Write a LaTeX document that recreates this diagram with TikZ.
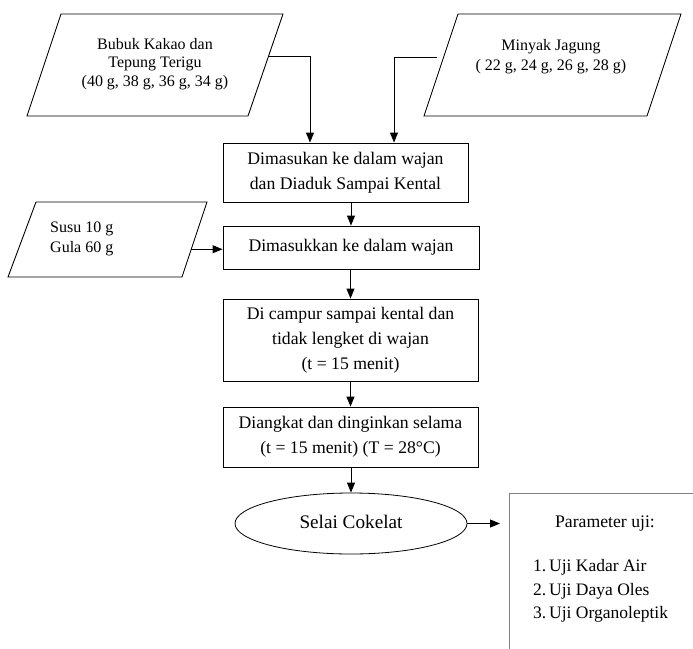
\documentclass[tikz,border=0pt]{standalone}
\usepackage{fontspec}
\setmainfont{Liberation Serif}
\usepackage{tikz}
\usetikzlibrary{calc, positioning, shapes.geometric, arrows.meta}

\begin{document}
\begin{tikzpicture}[x=1pt,y=1pt,yscale=-1,xscale=1,
  flowbox/.style={draw, line width=0.9pt, inner sep=0pt, align=center, font=\fontsize{17.7}{25}\selectfont},
  datatext/.style={inner sep=0pt, align=center, font=\fontsize{16}{18.5}\selectfont},
  para/.style={line width=0.9pt},
  arr/.style={line width=0.9pt, -{Triangle[length=10pt,width=8pt]}},
]
\useasboundingbox (0,0) rectangle (693,648);
\clip (0,0) rectangle (693,648);

%Shape: Parallelogram [kakao]
\coordinate (kTL) at (61,14);
\coordinate (kTR) at (283,14);
\coordinate (kBR) at (248,116);
\coordinate (kBL) at (27,116);
\draw [para] (kTL) -- (kTR) -- (kBR) -- (kBL) -- cycle;
%Shape: Parallelogram [minyak]
\coordinate (mTL) at (458,14);
\coordinate (mTR) at (681,14);
\coordinate (mBR) at (647,116);
\coordinate (mBL) at (424,116);
\draw [para] (mTL) -- (mTR) -- (mBR) -- (mBL) -- cycle;
%Shape: Parallelogram [susu]
\coordinate (sTL) at (36,202);
\coordinate (sTR) at (207,202);
\coordinate (sBR) at (182,277);
\coordinate (sBL) at (8,277);
\draw [para] (sTL) -- (sTR) -- (sBR) -- (sBL) -- cycle;

% Text Node
\node [datatext] (kakao) at (155,64) {Bubuk Kakao dan\\Tepung Terigu\\(40 g, 38 g, 36 g, 34 g)};
% Text Node
\node [datatext, font=\fontsize{16}{20}\selectfont] (minyak) at (551,57) {Minyak Jagung\\( 22 g, 24 g, 26 g, 28 g)};
% Text Node
\node [datatext, align=left, anchor=west, font=\fontsize{16}{19.5}\selectfont] (susu) at (50,239) {Susu 10 g\\Gula 60 g};

%Shape: Rectangle
\node [flowbox, minimum width=245, minimum height=59] (masuk) at (345.5,172.5) {Dimasukan ke dalam wajan\\dan Diaduk Sampai Kental};
%Shape: Rectangle
\node [flowbox, minimum width=256, minimum height=43] (wajan) at (351,247.5) {Dimasukkan ke dalam wajan};
%Shape: Rectangle
\node [flowbox, minimum width=255, minimum height=82] (campur) at (350.5,340) {Di campur sampai kental dan\\tidak lengket di wajan\\(t = 15 menit)};
%Shape: Rectangle
\node [flowbox, minimum width=255, minimum height=60] (angkat) at (350.5,437) {Diangkat dan dinginkan selama\\(t = 15 menit) (T = 28°C)};
%Shape: Ellipse
\node [ellipse, draw, line width=0.8pt, inner sep=0pt, minimum width=232, minimum height=61, font=\fontsize{19.2}{23}\selectfont] (selai) at (351,523.5) {\raisebox{3pt}{Selai Cokelat}};
%Shape: Rectangle (cut off)
\node [draw=gray, line width=0.8pt, minimum width=220, minimum height=200, anchor=north west] (param) at (509,493) {};
% Text Node
\node [inner sep=0pt, font=\fontsize{17.7}{21}\selectfont] (paramtitle) at (605,524) {Parameter uji:};
% Text Node
\node [inner sep=0pt, anchor=west, align=left, font=\fontsize{17.5}{23.5}\selectfont] (paramlist) at (533,591) {1.\,Uji Kadar Air\\2.\,Uji Daya Oles\\3.\,Uji Organoleptik};

%Connectors
\coordinate (kOut) at ($(kTR)!0.42!(kBR)$);
\draw [arr] (kOut) -| ([xshift=-35.5pt]masuk.north);
\coordinate (mOut) at ($(mTL)!0.43!(mBL)$);
\draw [arr, shorten <=6pt] (mOut) -| ([xshift=48.5pt]masuk.north);
\coordinate (sOut) at ($(sTR)!0.63!(sBR)$);
\draw [arr] (sOut) -- (sOut -| wajan.west);
\draw [arr] (masuk.south -| wajan.north) -- (wajan.north);
\draw [arr] (wajan.south -| campur.north) -- (campur.north);
\draw [arr] (campur.south) -- (angkat.north);
\draw [arr] (angkat.south -| selai.north) -- (selai.north);
\draw [arr, shorten >=9pt] (selai.east) -- (selai.east -| param.west);

\end{tikzpicture}
\end{document}
